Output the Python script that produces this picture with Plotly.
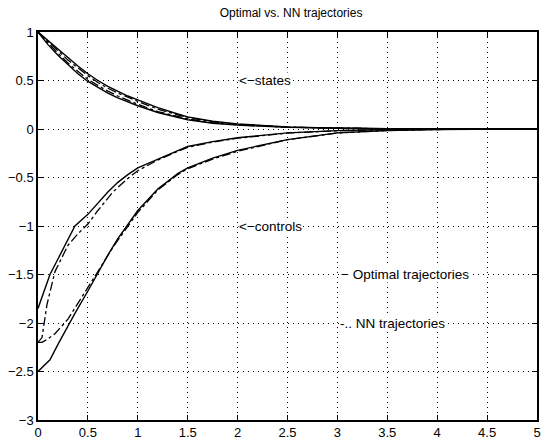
import plotly.graph_objects as go

# time samples
t = [0, 0.1, 0.2, 0.3, 0.4, 0.5, 0.6, 0.7, 0.8, 0.9, 1.0, 1.2, 1.4, 1.5, 1.75, 2.0, 2.5, 3.0, 3.5, 4.0, 5.0]

# states (optimal = solid, NN = dash-dot)
opt_state1 = [1, 0.87, 0.76, 0.66, 0.57, 0.49, 0.43, 0.37, 0.32, 0.28, 0.24, 0.17, 0.12, 0.095, 0.06, 0.04, 0.017, 0.006, 0.002, 0.0005, 0]
opt_state2 = [1, 0.91, 0.82, 0.73, 0.65, 0.57, 0.50, 0.44, 0.39, 0.34, 0.30, 0.22, 0.155, 0.125, 0.08, 0.052, 0.022, 0.008, 0.003, 0.001, 0]
nn_state1 = [1, 0.885, 0.78, 0.68, 0.59, 0.51, 0.45, 0.39, 0.34, 0.295, 0.255, 0.18, 0.13, 0.105, 0.066, 0.044, 0.018, 0.007, 0.002, 0.0005, 0]
nn_state2 = [1, 0.90, 0.80, 0.71, 0.63, 0.55, 0.48, 0.42, 0.37, 0.325, 0.285, 0.205, 0.145, 0.117, 0.075, 0.049, 0.02, 0.007, 0.003, 0.001, 0]

# controls
tc = [0, 0.12, 0.2, 0.3, 0.37, 0.5, 0.6, 0.7, 0.8, 0.9, 1.0, 1.2, 1.4, 1.5, 1.75, 2.0, 2.5, 3.0, 3.5, 4.0, 5.0]
opt_ctrl1 = [-1.85, -1.50, -1.34, -1.14, -1.00, -0.88, -0.76, -0.65, -0.55, -0.47, -0.40, -0.31, -0.22, -0.18, -0.13, -0.09, -0.04, -0.017, -0.006, -0.002, 0]
opt_ctrl2 = [-2.50, -2.38, -2.22, -2.03, -1.90, -1.67, -1.48, -1.30, -1.13, -0.98, -0.84, -0.62, -0.46, -0.40, -0.30, -0.22, -0.11, -0.04, -0.015, -0.005, 0]

tn = [0, 0.04, 0.09, 0.17, 0.3, 0.4, 0.5, 0.6, 0.75, 0.9, 1.0, 1.2, 1.4, 1.5, 1.75, 2.0, 2.5, 3.0, 3.5, 4.0, 5.0]
nn_ctrl1 = [-2.20, -2.15, -1.81, -1.47, -1.20, -1.08, -0.98, -0.84, -0.65, -0.51, -0.43, -0.32, -0.23, -0.19, -0.135, -0.095, -0.042, -0.018, -0.006, -0.002, 0]
nn_ctrl2 = [-2.20, -2.20, -2.17, -2.11, -1.96, -1.80, -1.64, -1.47, -1.22, -1.00, -0.86, -0.63, -0.47, -0.41, -0.31, -0.23, -0.11, -0.042, -0.015, -0.005, 0]

x_ticks = [0, 0.5, 1, 1.5, 2, 2.5, 3, 3.5, 4, 4.5, 5]
y_ticks = [-3, -2.5, -2, -1.5, -1, -0.5, 0, 0.5, 1]

fig = go.Figure()
solid = dict(color="black", width=1.4)
dd = dict(color="black", width=1.3, dash="dashdot")
fig.add_trace(go.Scatter(x=t, y=opt_state1, mode="lines", line=solid))
fig.add_trace(go.Scatter(x=t, y=opt_state2, mode="lines", line=solid))
fig.add_trace(go.Scatter(x=t, y=nn_state1, mode="lines", line=dd))
fig.add_trace(go.Scatter(x=t, y=nn_state2, mode="lines", line=dd))
fig.add_trace(go.Scatter(x=tc, y=opt_ctrl1, mode="lines", line=solid))
fig.add_trace(go.Scatter(x=tc, y=opt_ctrl2, mode="lines", line=solid))
fig.add_trace(go.Scatter(x=tn, y=nn_ctrl1, mode="lines", line=dd))
fig.add_trace(go.Scatter(x=tn, y=nn_ctrl2, mode="lines", line=dd))

font = "Liberation Sans, Arial, Helvetica, sans-serif"
ann = [
    ("<\u2212states", 2.0, 0.5),
    ("<\u2212controls", 2.0, -1.0),
    ("\u2212 Optimal trajectories", 3.03, -1.5),
    ("-.. NN trajectories", 3.02, -2.0),
]
for txt, ax, ay in ann:
    fig.add_annotation(x=ax, y=ay, text=txt, showarrow=False, xanchor="left",
                       yanchor="middle", bgcolor="white", borderpad=0,
                       font=dict(family=font, size=13.5, color="black"))

axis_common = dict(showline=True, linecolor="black", linewidth=1.5, mirror="allticks",
                   ticks="inside", ticklen=5, tickcolor="black", showgrid=True,
                   gridcolor="black", gridwidth=1, griddash="1px,4px", zeroline=False,
                   ticklabeloverflow="allow",
                   tickfont=dict(family=font, size=13, color="black"))
fig.update_xaxes(range=[0, 5], tickvals=x_ticks, ticktext=[str(v) for v in x_ticks], **axis_common)
fig.update_yaxes(range=[-3, 1], tickvals=y_ticks,
                 ticktext=[("\u2212" + str(abs(v))) if v < 0 else str(v) for v in y_ticks],
                 **axis_common)

fig.update_layout(
    width=544, height=443,
    margin=dict(l=38, r=3, t=32, b=21),
    paper_bgcolor="white", plot_bgcolor="white",
    showlegend=False,
    title=dict(text="Optimal vs. NN trajectories", x=0.535, xanchor="center", y=0.97, yanchor="middle",
               font=dict(family=font, size=12, color="black")),
)
fig.write_html("out.html", config={"displayModeBar": False},
               post_script="document.body.style.margin='0px';")
